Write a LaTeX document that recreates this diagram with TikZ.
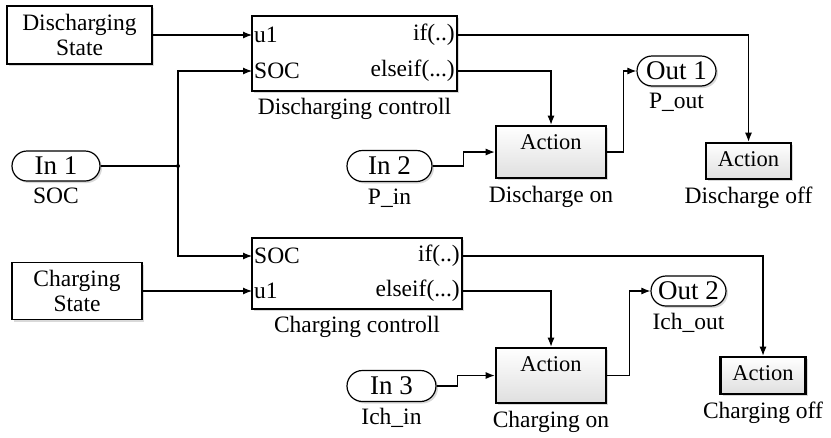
\documentclass[tikz,border=0pt]{standalone}
\usepackage{fontspec}
\setmainfont{Liberation Serif}
\usetikzlibrary{arrows.meta,shadows,shapes.misc}

\tikzset{
  sysblock/.style={draw,line width=1.2pt,fill=white,align=center,inner sep=0pt,
    drop shadow={shadow xshift=2pt,shadow yshift=-2pt,opacity=0.3}},
  inport/.style={rounded rectangle,draw,line width=1.2pt,fill=white,inner sep=0pt,
    font=\fontsize{27}{29}\selectfont,
    drop shadow={shadow xshift=2pt,shadow yshift=-2pt,opacity=0.3}},
  actionbox/.style={draw,line width=2.6pt,top color=white,bottom color=gray!25,inner sep=0pt,
    drop shadow={shadow xshift=2pt,shadow yshift=-2pt,opacity=0.3},
    label={[anchor=north,yshift=-7pt,inner sep=6pt,font=\fontsize{22.5}{24}\selectfont]north:Action}},
  portname/.style={inner sep=2pt},
  every label/.style={font=\fontsize{23.5}{25}\selectfont},
  label distance=3pt,
  wire/.style={line width=1.1pt,-{Latex[length=9pt,width=7pt]}},
  plainwire/.style={line width=1.1pt}
}

\begin{document}
\begin{tikzpicture}[x=1pt,y=-1pt,font=\fontsize{23.5}{25}\selectfont]
  \useasboundingbox (0,0) rectangle (831,437);

  \node[sysblock,minimum width=145,minimum height=58] (ds) at (79.5,35) {Discharging\\State};
  \node[sysblock,minimum width=130,minimum height=57] (cs) at (77,291) {Charging\\State};

  \node[sysblock,minimum width=205,minimum height=75,label=below:Discharging controll] (dc) at (354.5,53.5) {};
  \node[portname,anchor=west] (dcu) at (252,35) {u1};
  \node[portname,anchor=west] (dcs) at (252,71) {SOC};
  \node[portname,anchor=east] (dcif) at (457,35) {if(..)};
  \node[portname,anchor=east] (dcel) at (457,71) {elseif(...)};

  \node[sysblock,minimum width=210,minimum height=71,label=below:Charging controll] (cc) at (357,273.5) {};
  \node[portname,anchor=west] (ccs) at (252,256) {SOC};
  \node[portname,anchor=west] (ccu) at (252,291) {u1};
  \node[portname,anchor=east] (ccif) at (462,256) {if(..)};
  \node[portname,anchor=east] (ccel) at (462,291) {elseif(...)};

  \node[inport,minimum width=88,minimum height=30,label=below:SOC] (in1) at (56,166) {In 1};
  \node[inport,minimum width=85,minimum height=31,label=below:P\_in] (in2) at (389.5,166) {In 2};
  \node[inport,minimum width=89,minimum height=31,label=below:Ich\_in] (in3) at (391.5,386) {In 3};
  \node[inport,minimum width=79,minimum height=30,label=below:P\_out] (out1) at (676.5,71) {Out 1};
  \node[inport,minimum width=75,minimum height=30,label=below:Ich\_out] (out2) at (688.5,291) {Out 2};

  \node[actionbox,minimum width=110,minimum height=52,label=below:Discharge on] (don) at (551,152) {};
  \node[actionbox,minimum width=85,minimum height=36,label=below:Discharge off] (doff) at (748.5,161) {};
  \node[actionbox,minimum width=110,minimum height=55,label=below:Charging on] (con) at (551,375.5) {};
  \node[actionbox,minimum width=85,minimum height=37,label=below:Charging off] (coff) at (763,375.5) {};

  \coordinate (jn) at (178,166);
  \fill (jn) circle (2);

  \draw[wire] (ds.east) -- (dcu.west);
  \draw[wire] (cs.east) -- (ccu.west);
  \draw[plainwire] (in1.east) -- (jn);
  \draw[wire] (jn) |- (dcs.west);
  \draw[wire] (jn) |- (ccs.west);

  \draw[wire] (dcif.east) -| (doff.north);
  \draw[wire] (dcel.east) -| (don.north);
  \draw[wire] (in2.east) -- ++(31,0) |- (don.west);
  \draw[wire] (don.east) -- ++(16,0) |- (out1.west);

  \draw[wire] (ccif.east) -| (coff.north);
  \draw[wire] (ccel.east) -| (con.north);
  \draw[wire] (in3.east) -- ++(21,0) |- (con.west);
  \draw[wire] (con.east) -- ++(22,0) |- (out2.west);
\end{tikzpicture}
\end{document}
